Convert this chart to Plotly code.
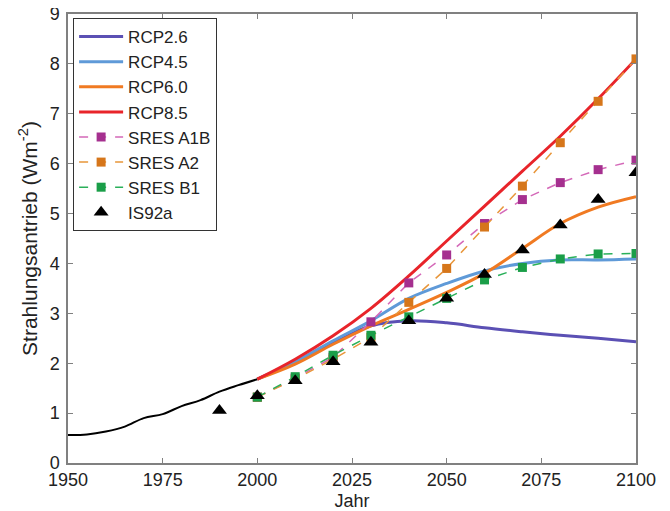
import plotly.graph_objects as go

# Historical forcing
hist_years = [1950, 1955, 1960, 1965, 1970, 1975, 1980, 1985, 1990, 1995, 2000]
hist_vals = [0.56, 0.57, 0.63, 0.73, 0.90, 0.98, 1.14, 1.26, 1.43, 1.56, 1.68]

rcp_years = [2000, 2010, 2020, 2030, 2040, 2050, 2060, 2070, 2080, 2090, 2100]
rcp26 = [1.68, 2.02, 2.40, 2.75, 2.85, 2.81, 2.71, 2.63, 2.56, 2.50, 2.43]
rcp45 = [1.68, 2.03, 2.45, 2.85, 3.30, 3.60, 3.85, 4.00, 4.07, 4.07, 4.09]
rcp60 = [1.68, 1.98, 2.38, 2.75, 3.08, 3.42, 3.80, 4.30, 4.80, 5.13, 5.34]
rcp85 = [1.68, 2.08, 2.55, 3.10, 3.75, 4.45, 5.15, 5.85, 6.55, 7.30, 8.10]

sres_years = [2000, 2010, 2020, 2030, 2040, 2050, 2060, 2070, 2080, 2090, 2100]
sres_a1b = [1.32, 1.70, 2.12, 2.83, 3.61, 4.17, 4.80, 5.28, 5.62, 5.88, 6.07]
sres_a2 = [1.32, 1.68, 2.08, 2.52, 3.22, 3.90, 4.73, 5.55, 6.42, 7.25, 8.10]
sres_b1 = [1.32, 1.73, 2.16, 2.56, 2.93, 3.30, 3.67, 3.92, 4.09, 4.19, 4.20]

is92_years = [1990, 2000, 2010, 2020, 2030, 2040, 2050, 2060, 2070, 2080, 2090, 2100]
is92a = [1.05, 1.35, 1.65, 2.03, 2.42, 2.85, 3.30, 3.78, 4.27, 4.77, 5.28, 5.82]

x_ticks = [1950, 1975, 2000, 2025, 2050, 2075, 2100]
y_ticks = [0, 1, 2, 3, 4, 5, 6, 7, 8, 9]

FONT = "Liberation Sans, Arial, sans-serif"

fig = go.Figure()

fig.add_trace(go.Scatter(x=hist_years, y=hist_vals, mode="lines", showlegend=False,
                         line=dict(color="black", width=2, shape="spline")))

for name, vals, col in [("RCP2.6", rcp26, "#5b50b4"), ("RCP4.5", rcp45, "#5f9ad8"),
                        ("RCP6.0", rcp60, "#f07a22"), ("RCP8.5", rcp85, "#e8242a")]:
    fig.add_trace(go.Scatter(x=rcp_years, y=vals, mode="lines", name=name,
                             line=dict(color=col, width=3, shape="spline")))

for name, vals, lcol, mcol in [("SRES A1B", sres_a1b, "#d468b8", "#a5308f"),
                               ("SRES A2", sres_a2, "#e8963a", "#d6761a"),
                               ("SRES B1", sres_b1, "#2ab05a", "#1a9e48")]:
    fig.add_trace(go.Scatter(x=sres_years, y=vals, mode="lines+markers", name=name,
                             line=dict(color=lcol, width=1.5, dash="dash"),
                             marker=dict(symbol="square", size=9, color=mcol)))

fig.add_trace(go.Scatter(x=is92_years, y=is92a, mode="markers", name="IS92a",
                         marker=dict(symbol="triangle-up", size=13, color="black")))

axis_common = dict(showline=True, linecolor="#808080", linewidth=1.5, mirror="ticks",
                   ticks="inside", ticklen=5, tickcolor="#808080", showgrid=False,
                   zeroline=False, automargin=False, ticklabeloverflow="allow",
                   tickfont=dict(size=18, color="#222", family=FONT))

fig.update_xaxes(range=[1950, 2100], tickvals=x_ticks, **axis_common)
fig.update_yaxes(range=[0, 9], tickvals=y_ticks, ticklabelstandoff=3, **axis_common)
fig.update_xaxes(title_text="Jahr", title_standoff=6,
                 title_font=dict(size=18, color="#222", family=FONT))
fig.update_yaxes(title_text="Strahlungsantrieb (Wm<sup>-2</sup>)", title_standoff=6,
                 title_font=dict(size=21, color="#222", family=FONT))

fig.update_layout(
    width=662, height=503,
    margin=dict(l=60, r=34, t=6, b=48),
    paper_bgcolor="white", plot_bgcolor="white",
    font=dict(family=FONT, color="#222"),
    legend=dict(x=0.009, y=0.991, xanchor="left", yanchor="top",
                bgcolor="white", bordercolor="#333", borderwidth=1,
                font=dict(size=17, color="#222"), tracegroupgap=0, itemwidth=44),
)

fig.write_html("out.html")
